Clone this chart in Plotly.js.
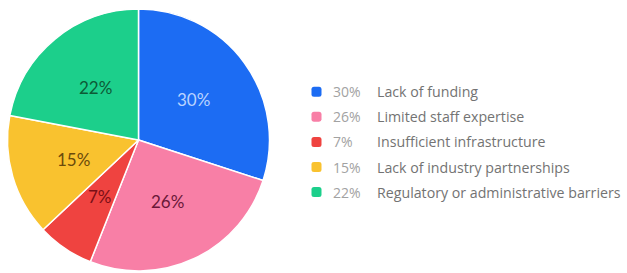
<!DOCTYPE html>
<html>
<head>
<meta charset="utf-8">
<script src="https://cdn.plot.ly/plotly-3.0.1.min.js"></script>
<style>html,body{margin:0;padding:0;background:#fff;}#chart{width:627px;height:273px;}</style>
</head>
<body>
<div id="chart"></div>
<script>
const categories = ["Lack of funding", "Limited staff expertise", "Insufficient infrastructure", "Lack of industry partnerships", "Regulatory or administrative barriers"];
const values = [30, 26, 7, 15, 22];
const sliceColors = ["#1c6cf3", "#f87fa6", "#ef4340", "#f9c22f", "#1ccf8b"];
const textColors = ["#b9d3ff", "#6a1838", "#7a0f16", "#6b4a0b", "#0d5a36"];

const pctLabels = values.map(v => v + "%");

const W = 627, H = 273;
const dom = {x: [7.5 / W, 269.5 / W], y: [2 / H, 264 / H]};

const trace = {
  type: "pie",
  values: values,
  labels: categories,
  textinfo: "none",
  sort: false,
  direction: "clockwise",
  rotation: 0,
  marker: {colors: sliceColors, line: {color: "#ffffff", width: 1.5}},
  domain: dom,
  hoverinfo: "none",
  showlegend: false
};

const annotations = [];
const shapes = [];

// slice labels placed at mid-angle, about half radius (derived from the values)
const total = values.reduce((a, b) => a + b, 0);
const cxP = (dom.x[0] + dom.x[1]) / 2, cyP = (dom.y[0] + dom.y[1]) / 2;
const R = Math.min((dom.x[1] - dom.x[0]) * W, (dom.y[1] - dom.y[0]) * H) / 2;
let cum = 0;
values.forEach((v, i) => {
  const mid = (cum + v / 2) / total * 2 * Math.PI;
  cum += v;
  const r = 0.52 * R;
  annotations.push({
    xref: "paper", yref: "paper",
    x: cxP + r * Math.sin(mid) / W, y: cyP + r * Math.cos(mid) / H,
    xanchor: "center", yanchor: "middle", showarrow: false,
    text: pctLabels[i],
    font: {family: "Lato, sans-serif", size: 17, color: textColors[i]}
  });
});

// legend rows
const rowTop = 91.7, rowStep = 25.1;
function roundedSquarePath(cx, cy, h, rr) {
  const px = x => (x / W).toFixed(5), py = y => (1 - y / H).toFixed(5);
  const l = cx - h, r = cx + h, t = cy - h, b = cy + h;
  return `M${px(l + rr)},${py(t)} L${px(r - rr)},${py(t)} Q${px(r)},${py(t)} ${px(r)},${py(t + rr)} ` +
         `L${px(r)},${py(b - rr)} Q${px(r)},${py(b)} ${px(r - rr)},${py(b)} ` +
         `L${px(l + rr)},${py(b)} Q${px(l)},${py(b)} ${px(l)},${py(b - rr)} ` +
         `L${px(l)},${py(t + rr)} Q${px(l)},${py(t)} ${px(l + rr)},${py(t)} Z`;
}
categories.forEach((c, i) => {
  const yPx = rowTop + i * rowStep;
  const yP = 1 - yPx / H;
  shapes.push({
    type: "path", xref: "paper", yref: "paper",
    path: roundedSquarePath(316.5, yPx, 5, 2.5),
    fillcolor: sliceColors[i], line: {width: 0}
  });
  annotations.push({
    xref: "paper", yref: "paper", x: 331 / W, y: yP, xanchor: "left", yanchor: "middle",
    text: pctLabels[i], showarrow: false,
    font: {family: "Open Sans, sans-serif", size: 14, color: "#a2a2a2"}
  });
  annotations.push({
    xref: "paper", yref: "paper", x: 375 / W, y: yP, xanchor: "left", yanchor: "middle",
    text: c, showarrow: false,
    font: {family: "Open Sans, sans-serif", size: 14.2, color: "#737373"}
  });
});

const layout = {
  width: W, height: H,
  margin: {l: 0, r: 0, t: 0, b: 0},
  paper_bgcolor: "#ffffff",
  showlegend: false,
  annotations: annotations,
  shapes: shapes
};

Plotly.newPlot("chart", [trace], layout, {displayModeBar: false, staticPlot: true});
</script>
</body>
</html>
